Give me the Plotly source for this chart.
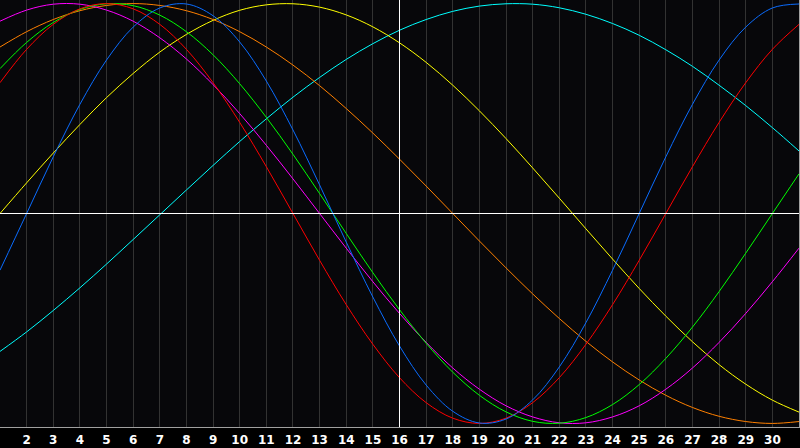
import plotly.graph_objects as go

days = list(range(1, 32))
tick_days = list(range(2, 31))
tick_labels = [str(d) for d in tick_days]

blue = [-0.270, 0.0, 0.270, 0.520, 0.731, 0.888, 0.979, 0.998, 0.942, 0.817, 0.631, 0.398, 0.136,
        -0.136, -0.398, -0.631, -0.817, -0.942, -0.998, -0.979, -0.888, -0.731, -0.520, -0.270,
        0.0, 0.270, 0.520, 0.731, 0.888, 0.979, 0.998]
red = [0.623, 0.782, 0.901, 0.975, 1.000, 0.975, 0.901, 0.782, 0.623, 0.434, 0.223, 0.0, -0.223,
       -0.434, -0.623, -0.782, -0.901, -0.975, -1.000, -0.975, -0.901, -0.782, -0.623, -0.434,
       -0.223, 0.0, 0.223, 0.434, 0.623, 0.782, 0.901]
green = [0.690, 0.815, 0.910, 0.972, 0.999, 0.990, 0.945, 0.866, 0.756, 0.618, 0.458, 0.282, 0.095,
         -0.095, -0.282, -0.458, -0.618, -0.756, -0.866, -0.945, -0.990, -0.999, -0.972, -0.910,
         -0.815, -0.690, -0.541, -0.372, -0.189, 0.0, 0.189]
magenta = [0.916, 0.969, 0.997, 0.997, 0.969, 0.916, 0.837, 0.736, 0.614, 0.476, 0.325, 0.165, 0.0,
           -0.165, -0.325, -0.476, -0.614, -0.736, -0.837, -0.916, -0.969, -0.997, -0.997, -0.969,
           -0.916, -0.837, -0.736, -0.614, -0.476, -0.325, -0.165]
orange = [0.793, 0.866, 0.924, 0.966, 0.991, 1.000, 0.991, 0.966, 0.924, 0.866, 0.793, 0.707, 0.609,
          0.500, 0.383, 0.259, 0.131, 0.0, -0.131, -0.259, -0.383, -0.500, -0.609, -0.707, -0.793,
          -0.866, -0.924, -0.966, -0.991, -1.000, -0.991]
yellow = [0.0, 0.146, 0.288, 0.424, 0.552, 0.667, 0.769, 0.853, 0.920, 0.968, 0.994, 0.999, 0.983,
          0.946, 0.889, 0.813, 0.720, 0.611, 0.489, 0.357, 0.217, 0.073, -0.073, -0.217, -0.357,
          -0.489, -0.611, -0.720, -0.813, -0.889, -0.946]
cyan = [-0.657, -0.564, -0.462, -0.354, -0.241, -0.124, -0.006, 0.112, 0.229, 0.343, 0.451, 0.554,
        0.648, 0.734, 0.809, 0.873, 0.924, 0.963, 0.988, 0.999, 0.997, 0.980, 0.949, 0.905, 0.849,
        0.780, 0.701, 0.611, 0.514, 0.409, 0.298]

series = [
    ("cyan", cyan, "#00ffff"),
    ("yellow", yellow, "#ffff00"),
    ("orange", orange, "#ff8000"),
    ("magenta", magenta, "#ff00ff"),
    ("green", green, "#00ff00"),
    ("red", red, "#ff0000"),
    ("blue", blue, "#0a6cff"),
]

fig = go.Figure()
for name, vals, col in series:
    fig.add_trace(go.Scatter(x=days, y=vals, mode="lines", name=name,
                             line=dict(color=col, width=1, shape="spline", smoothing=1.0),
                             hoverinfo="skip"))

# white centre cross
fig.add_shape(type="line", xref="x", yref="paper", x0=16, x1=16, y0=0, y1=1,
              line=dict(color="#ffffff", width=1), layer="above")
fig.add_shape(type="line", xref="paper", yref="y", x0=0, x1=1, y0=0, y1=0,
              line=dict(color="#ffffff", width=1), layer="above")

fig.update_layout(
    width=800, height=448,
    margin=dict(l=0, r=1, t=0, b=21, pad=0),
    paper_bgcolor="#000000",
    plot_bgcolor="#07070a",
    showlegend=False,
)
fig.update_xaxes(range=[1, 31], tickvals=tick_days, ticktext=tick_labels,
                 showgrid=True, gridcolor="#323232", gridwidth=1,
                 zeroline=False, showline=True, linecolor="#a0a0a0", linewidth=1, mirror=True,
                 ticks="outside", ticklen=2, tickcolor="#000000",
                 tickfont=dict(family="DejaVu Sans", size=12, color="#ffffff", weight="bold"))
fig.update_yaxes(range=[-1.017, 1.017], showgrid=False, zeroline=False, showticklabels=False,
                 showline=True, linecolor="#a0a0a0", linewidth=1, mirror=True)

fig.write_html("out.html", config={"displayModeBar": False},
               post_script="document.body.style.margin='0';document.body.style.background='#000';")
